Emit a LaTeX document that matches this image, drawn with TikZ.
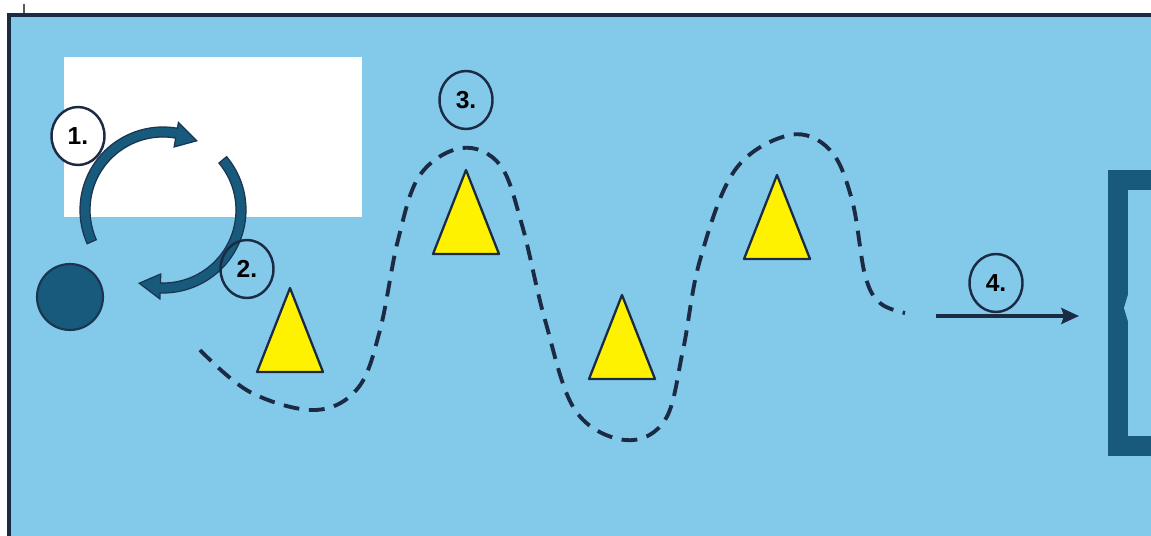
\documentclass[tikz,border=0pt]{standalone}
\usepackage{fontspec}
\setmainfont{Liberation Sans}
\usetikzlibrary{arrows.meta,shapes.geometric}
\definecolor{fieldblue}{HTML}{83C9EA}
\definecolor{teal}{HTML}{175A7C}
\definecolor{navy}{HTML}{1C2B44}
\tikzset{
  field/.style = {fill=fieldblue, draw=navy, line width=2.2pt},
  stepnum/.style = {ellipse, draw=navy, line width=1.4pt, minimum width=1.06cm,
    minimum height=1.16cm, inner sep=0pt, font=\fontsize{14}{16}\selectfont\bfseries},% numbered step
  cone/.style = {fill=yellow, draw=navy, line width=1.3pt, line join=round},% slalom cone
  turn/.style = {fill=teal, draw=navy!80!teal, line width=0.7pt},% turning arrow
  route/.style = {draw=navy, line width=2.2pt, dash pattern=on 9pt off 5.5pt},
  goalpost/.style = {fill=teal}
}

\begin{document}
\begin{tikzpicture}[x=0.02cm,y=-0.02cm]
    \useasboundingbox (0,0) rectangle (1151,536);
    \clip (0,0) rectangle (1151,536);
    \fill[white] (0,0) rectangle (1151,536);
    \draw[gray!70!black, line width=0.8pt] (24,4) -- (24,15);
    \draw[field] (9,15) rectangle (1180,560);
    \fill[white] (64,57) rectangle (362,217);% start zone
    % player
    \node[circle, fill=teal, draw=navy!80!teal, line width=1.2pt, minimum size=1.32cm,
      inner sep=0pt] (player) at (70,297) {};
    % turning arrows
    \begin{scope}[shift={(163,210)}]
      \filldraw[turn] (156:83) arc[start angle=156, end angle=280, radius=83]
        -- (280:89) -- (296:77) -- (280:64) -- (280:73)
        arc[start angle=280, end angle=156, radius=73] -- cycle;
      \filldraw[turn] (320:83) arc[start angle=320, end angle=452, radius=83]
        -- (452:89) -- (468:77) -- (452:64) -- (452:73)
        arc[start angle=452, end angle=320, radius=73] -- cycle;
    \end{scope}
    \node[stepnum, fill=white] (s1) at (78,136) {1.};
    \node[stepnum] (s2) at (247,269) {2.};
    \node[stepnum] (s3) at (466,100) {3.};
    \node[stepnum] (s4) at (996,283) {4.};
    % cones
    \foreach \x/\y in {290/288, 466/170, 622/295, 777/175}
      \draw[cone] (\x,\y) -- ++(-33,84) -- ++(66,0) -- cycle;
    % dribbling route
    \draw[route] plot[smooth, tension=0.6] coordinates {(200,350) (250,392) (315,410)
      (358,388) (380,330) (398,240) (420,175) (462,148) (500,165) (522,225) (545,320)
      (575,410) (625,440) (665,420) (683,350) (700,260) (735,170) (790,135) (830,150)
      (852,200) (865,275) (880,303) (905,313)};
    % shot
    \coordinate (shotstart) at (936,316);
    \coordinate (shotend) at (1079,316);
    \draw[navy, line width=2.2pt, -{Stealth[length=10pt, width=9pt, inset=1.5pt]}]
      (shotstart) -- (shotend);
    % goal
    \fill[goalpost] (1108,170) rectangle (1180,456);
    \fill[fieldblue] (1128,190) rectangle (1180,436);
    \fill[fieldblue] (1128.5,293) -- (1124,308) -- (1128.5,323) -- cycle;
\end{tikzpicture}
\end{document}
